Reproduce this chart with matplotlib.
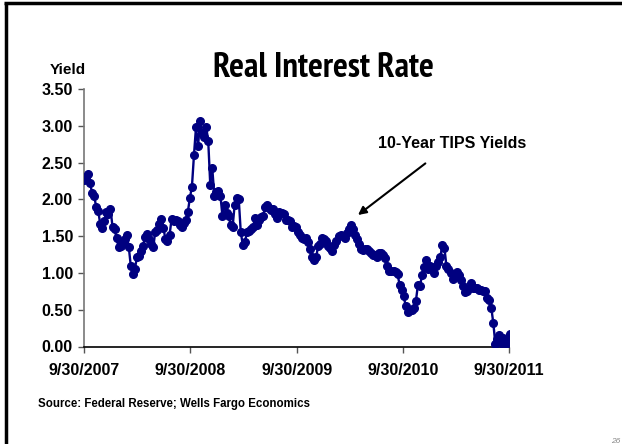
import matplotlib
matplotlib.use("Agg")
import matplotlib.pyplot as plt
from matplotlib.lines import Line2D
from matplotlib import font_manager
from matplotlib.font_manager import FontProperties
import pandas as pd

# ---- data -----------------------------------------------------------
start_date = "2007-09-30"
tips_yield = [
    2.26, 2.30, 2.35, 2.22, 2.08, 2.04, 1.90, 1.84, 1.66, 1.61,
    1.71, 1.83, 1.80, 1.87, 1.63, 1.60, 1.47, 1.35, 1.37, 1.42,
    1.46, 1.51, 1.35, 1.09, 0.99, 1.05, 1.22, 1.23, 1.30, 1.37,
    1.49, 1.53, 1.46, 1.40, 1.35, 1.56, 1.58, 1.66, 1.73, 1.61,
    1.46, 1.43, 1.51, 1.73, 1.71, 1.72, 1.70, 1.65, 1.62, 1.68,
    1.72, 1.83, 2.02, 2.17, 2.60, 2.98, 2.72, 3.07, 2.90, 2.85,
    2.98, 2.80, 2.20, 2.42, 2.05, 2.10, 2.12, 2.05, 1.77, 1.93,
    1.82, 1.78, 1.65, 1.63, 1.93, 2.02, 2.00, 1.55, 1.38, 1.42,
    1.55, 1.57, 1.60, 1.62, 1.75, 1.65, 1.72, 1.76, 1.78, 1.90,
    1.92, 1.88, 1.85, 1.87, 1.80, 1.75, 1.83, 1.82, 1.80, 1.72,
    1.72, 1.71, 1.63, 1.64, 1.62, 1.55, 1.52, 1.48, 1.46, 1.47,
    1.42, 1.32, 1.22, 1.18, 1.22, 1.36, 1.40, 1.47, 1.46, 1.43,
    1.37, 1.34, 1.30, 1.38, 1.44, 1.50, 1.52, 1.50, 1.47, 1.54,
    1.60, 1.65, 1.60, 1.52, 1.46, 1.40, 1.33, 1.31, 1.33, 1.32,
    1.30, 1.27, 1.25, 1.24, 1.22, 1.27, 1.27, 1.24, 1.20, 1.10,
    1.03, 1.02, 1.03, 1.01, 0.98, 0.84, 0.77, 0.68, 0.55, 0.47,
    0.50, 0.50, 0.53, 0.62, 0.84, 0.82, 0.97, 1.08, 1.18, 1.06,
    1.10, 1.05, 1.00, 1.10, 1.15, 1.22, 1.38, 1.34, 1.09, 1.05,
    1.00, 0.92, 0.97, 1.01, 0.97, 0.91, 0.82, 0.74, 0.76, 0.80,
    0.86, 0.80, 0.79, 0.79, 0.77, 0.77, 0.75, 0.76, 0.66, 0.63,
    0.53, 0.32, 0.04, 0.10, 0.15, 0.05, 0.11, 0.04, 0.10, 0.17,
]
tick_dates = ["2007-09-30", "2008-09-30", "2009-09-30", "2010-09-30", "2011-09-30"]
tick_labels = ["9/30/2007", "9/30/2008", "9/30/2009", "9/30/2010", "9/30/2011"]
y_ticks = [0.0, 0.5, 1.0, 1.5, 2.0, 2.5, 3.0, 3.5]

dates = pd.date_range(start_date, periods=len(tips_yield), freq="7D")

# ---- fonts ----------------------------------------------------------
names = {f.name for f in font_manager.fontManager.ttflist}
base = "Liberation Sans" if "Liberation Sans" in names else "DejaVu Sans"
plt.rcParams["font.family"] = [base, "DejaVu Sans"]


def find_narrow_bold():
    cands = []
    for f in font_manager.fontManager.ttflist:
        fn = f.fname.lower()
        bold = (f.weight in ("bold", 700) or (isinstance(f.weight, int) and f.weight >= 600)
                or "bold" in fn)
        if not bold or "italic" in fn or "oblique" in fn:
            continue
        if "narrow" in fn:
            cands.append((0, f.fname))
        elif "condensed" in fn and "semi" not in fn and "extra" not in fn:
            score = 1 if ("roboto" in fn or "liberation" in fn or "arimo" in fn) else 2
            cands.append((score, f.fname))
    cands.sort()
    return cands[0][1] if cands else None


narrow_file = find_narrow_bold()

W, H = 622, 444
fig = plt.figure(figsize=(W / 100, H / 100), dpi=100)
fig.patch.set_facecolor("white")

ax_l, ax_r, ax_t, ax_b = 84, 509, 89, 346.5
ax = fig.add_axes([ax_l / W, 1 - ax_b / H, (ax_r - ax_l) / W, (ax_b - ax_t) / H])

navy = "#000080"
ax.plot(dates, tips_yield, color=navy, lw=1.7, marker="o", ms=5.5,
        markeredgecolor=navy, markerfacecolor=navy, zorder=3)

ax.set_xlim(pd.Timestamp(tick_dates[0]), pd.Timestamp(tick_dates[-1]))
ax.set_ylim(0, 3.5)
ax.set_xticks([pd.Timestamp(d) for d in tick_dates])
ax.set_xticklabels(tick_labels, fontsize=11.5, fontweight="bold")
ax.set_yticks(y_ticks)
ax.set_yticklabels([f"{v:.2f}" for v in y_ticks], fontsize=11.5, fontweight="bold")
ax.tick_params(axis="x", direction="out", length=4, width=1, color="#555555", pad=8)
ax.tick_params(axis="y", direction="out", length=4, width=1, color="#555555", pad=4)
for s in ["top", "right"]:
    ax.spines[s].set_visible(False)
ax.spines["left"].set_color("#777777")
ax.spines["left"].set_linewidth(1.2)
ax.spines["bottom"].set_color("black")
ax.spines["bottom"].set_linewidth(1.2)
ax.set_facecolor("white")

# ---- texts ----------------------------------------------------------
title = "Real Interest Rate"
if narrow_file:
    fp = FontProperties(fname=narrow_file, size=25)
    fig.text(323 / W, 1 - 77 / H, title, fontproperties=fp,
             ha="center", va="baseline")
else:
    fig.text(323 / W, 1 - 77 / H, title, fontsize=19.5, fontweight="bold",
             ha="center", va="baseline")

fig.text(67.5 / W, 1 - 70 / H, "Yield", fontsize=11, fontweight="bold",
         ha="center", va="center")
fig.text(38 / W, 1 - 404 / H, "Source: Federal Reserve; Wells Fargo Economics",
         fontsize=8.3, fontweight="bold", ha="left", va="center")
fig.text(611 / W, 1 - 441 / H, "26", fontsize=6, color="#888888", style="italic",
         ha="left", va="center")

ax.annotate("10-Year TIPS Yields",
            xy=(358 / W, 1 - 215 / H), xycoords="figure fraction",
            xytext=(452 / W, 1 - 143 / H), textcoords="figure fraction",
            fontsize=11.5, fontweight="bold", ha="center", va="center",
            arrowprops=dict(arrowstyle="-|>", color="black", lw=1.5,
                            mutation_scale=12, shrinkA=12, shrinkB=0))

# ---- slide border (left + top) --------------------------------------
fig.add_artist(Line2D([5.5 / W, 5.5 / W], [0, 1 - 3.5 / H], color="black", lw=2.5,
                      transform=fig.transFigure, solid_capstyle="butt"))
fig.add_artist(Line2D([4.2 / W, 1], [1 - 3.5 / H, 1 - 3.5 / H], color="black", lw=2.5,
                      transform=fig.transFigure, solid_capstyle="butt"))

fig.savefig("out.png", dpi=100, facecolor="white")
